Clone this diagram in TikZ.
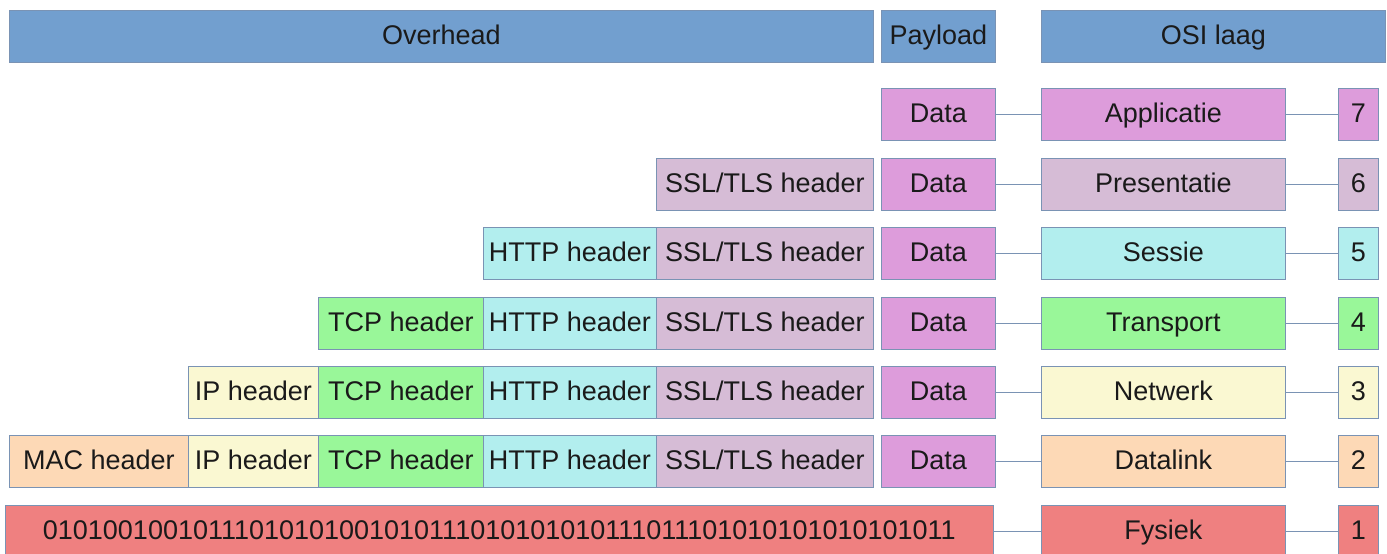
\documentclass[tikz,border=0pt]{standalone}
\usepackage{fontspec}
\setmainfont{Liberation Sans}
\definecolor{edge}{HTML}{7A93B4}
\definecolor{ink}{HTML}{1A1A1A}
\definecolor{titlefill}{HTML}{729FCF}
\definecolor{appfill}{HTML}{DD9CDB}
\definecolor{presfill}{HTML}{D6BCD6}
\definecolor{sessfill}{HTML}{B2EEEE}
\definecolor{transfill}{HTML}{99F799}
\definecolor{netfill}{HTML}{FAF8D2}
\definecolor{linkfill}{HTML}{FDD9B6}
\definecolor{physfill}{HTML}{EF8080}
\begin{document}
\begin{tikzpicture}[x=1pt,y=-1pt,
  cell/.style={draw=edge, line width=0.8pt, inner sep=0pt, minimum height=52pt,
    anchor=north west, text=ink, font=\fontsize{27}{32}\selectfont,
    text height=19.5pt, text depth=3pt},
  link/.style={draw=edge, line width=0.8pt}]
\useasboundingbox (0,0) rectangle (1387,554);

% column titles
\node[cell, fill=titlefill, minimum width=864pt] (overhead) at (9,10) {Overhead};
\node[cell, fill=titlefill, minimum width=114pt] (payload) at (881,10) {Payload};
\node[cell, fill=titlefill, minimum width=344pt] (osititle) at (1041,10) {OSI laag};

% layer 7
\node[cell, fill=appfill, minimum width=114pt] (d7) at (881,88) {Data};
\node[cell, fill=appfill, minimum width=244pt] (l7) at (1041,88) {Applicatie};
\node[cell, fill=appfill, minimum width=40pt] (n7) at (1338,88) {7};

% layer 6
\node[cell, fill=presfill, minimum width=217pt] (ssl6) at (656,158) {SSL/TLS header};
\node[cell, fill=appfill, minimum width=114pt] (d6) at (881,158) {Data};
\node[cell, fill=presfill, minimum width=244pt] (l6) at (1041,158) {Presentatie};
\node[cell, fill=presfill, minimum width=40pt] (n6) at (1338,158) {6};

% layer 5
\node[cell, fill=sessfill, minimum width=173pt] (http5) at (483,227) {HTTP header};
\node[cell, fill=presfill, minimum width=217pt] (ssl5) at (656,227) {SSL/TLS header};
\node[cell, fill=appfill, minimum width=114pt] (d5) at (881,227) {Data};
\node[cell, fill=sessfill, minimum width=244pt] (l5) at (1041,227) {Sessie};
\node[cell, fill=sessfill, minimum width=40pt] (n5) at (1338,227) {5};

% layer 4
\node[cell, fill=transfill, minimum width=165pt] (tcp4) at (318,297) {TCP header};
\node[cell, fill=sessfill, minimum width=173pt] (http4) at (483,297) {HTTP header};
\node[cell, fill=presfill, minimum width=217pt] (ssl4) at (656,297) {SSL/TLS header};
\node[cell, fill=appfill, minimum width=114pt] (d4) at (881,297) {Data};
\node[cell, fill=transfill, minimum width=244pt] (l4) at (1041,297) {Transport};
\node[cell, fill=transfill, minimum width=40pt] (n4) at (1338,297) {4};

% layer 3
\node[cell, fill=netfill, minimum width=130pt] (ip3) at (188,366) {IP header};
\node[cell, fill=transfill, minimum width=165pt] (tcp3) at (318,366) {TCP header};
\node[cell, fill=sessfill, minimum width=173pt] (http3) at (483,366) {HTTP header};
\node[cell, fill=presfill, minimum width=217pt] (ssl3) at (656,366) {SSL/TLS header};
\node[cell, fill=appfill, minimum width=114pt] (d3) at (881,366) {Data};
\node[cell, fill=netfill, minimum width=244pt] (l3) at (1041,366) {Netwerk};
\node[cell, fill=netfill, minimum width=40pt] (n3) at (1338,366) {3};

% layer 2
\node[cell, fill=linkfill, minimum width=179pt] (mac2) at (9,435) {MAC header};
\node[cell, fill=netfill, minimum width=130pt] (ip2) at (188,435) {IP header};
\node[cell, fill=transfill, minimum width=165pt] (tcp2) at (318,435) {TCP header};
\node[cell, fill=sessfill, minimum width=173pt] (http2) at (483,435) {HTTP header};
\node[cell, fill=presfill, minimum width=217pt] (ssl2) at (656,435) {SSL/TLS header};
\node[cell, fill=appfill, minimum width=114pt] (d2) at (881,435) {Data};
\node[cell, fill=linkfill, minimum width=244pt] (l2) at (1041,435) {Datalink};
\node[cell, fill=linkfill, minimum width=40pt] (n2) at (1338,435) {2};

% layer 1 (runs past the lower edge)
\node[cell, fill=physfill, minimum width=988pt] (bits) at (5,505) {01010010010111010101001010111010101010111011101010101010101011};
\node[cell, fill=physfill, minimum width=244pt] (l1) at (1041,505) {Fysiek};
\node[cell, fill=physfill, minimum width=40pt] (n1) at (1338,505) {1};

% connectors
\foreach \i in {2,...,7} {
  \draw[link] (d\i.east) -- (l\i.west);
  \draw[link] (l\i.east) -- (n\i.west);
}
\draw[link] (bits.east) -- (l1.west);
\draw[link] (l1.east) -- (n1.west);
\end{tikzpicture}
\end{document}
